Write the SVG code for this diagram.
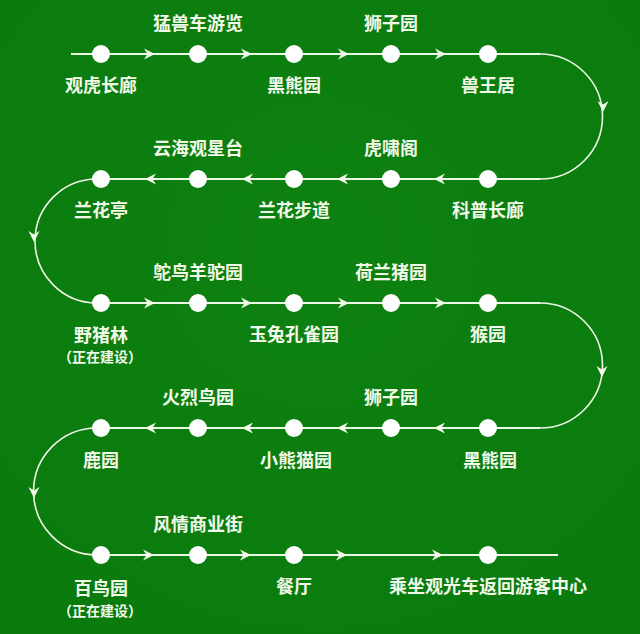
<svg xmlns="http://www.w3.org/2000/svg" xmlns:xlink="http://www.w3.org/1999/xlink" width="640" height="634" viewBox="0 0 640 634">
<defs>
<style>
.lbl{font-family:"Noto Sans CJK SC","Noto Sans",sans-serif;font-size:18px;font-weight:bold;fill:#f2f9e8;text-anchor:middle}
.sub{font-family:"Noto Sans CJK SC","Noto Sans",sans-serif;font-size:14px;font-weight:bold;fill:#f2f9e8;text-anchor:middle}
.dot{fill:#ffffff}
.ln{fill:none;stroke:#eef7e4;stroke-width:2}
.cv{fill:none;stroke:#eef7e4;stroke-width:1.6}
.ah{fill:#f2f9e8}
</style>
<path id="ah" d="M0,0 L-11,-5.5 L-7.5,0 L-11,5.5 Z"/>
<radialGradient id="bg" cx="50%" cy="40%" r="75%">
<stop offset="0" stop-color="#0d8112"/>
<stop offset="1" stop-color="#0a7a0d"/>
</radialGradient>
</defs>
<rect width="640" height="634" fill="url(#bg)"/>
<g id="connectors">
<path class="ln" d="M71,54 H540"/>
<path class="cv" d="M540,54 A62.5,62.5 0 0 1 540,179"/>
<path class="ln" d="M540,179 H97"/>
<path class="cv" d="M97,179 A62,62 0 0 0 97,303"/>
<path class="ln" d="M97,303 H540"/>
<path class="cv" d="M540,303 A62.5,62.5 0 0 1 540,428"/>
<path class="ln" d="M540,428 H97"/>
<path class="cv" d="M97,428 A63.5,63.5 0 0 0 97,555"/>
<path class="ln" d="M97,555 H558"/>
<g class="ah">
<use xlink:href="#ah" transform="translate(155,54)"/>
<use xlink:href="#ah" transform="translate(252,54)"/>
<use xlink:href="#ah" transform="translate(349,54)"/>
<use xlink:href="#ah" transform="translate(446,54)"/>
<use xlink:href="#ah" transform="translate(603,112) rotate(90)"/>
<use xlink:href="#ah" transform="translate(434,179) rotate(180)"/>
<use xlink:href="#ah" transform="translate(337,179) rotate(180)"/>
<use xlink:href="#ah" transform="translate(242,179) rotate(180)"/>
<use xlink:href="#ah" transform="translate(145,179) rotate(180)"/>
<use xlink:href="#ah" transform="translate(34,242) rotate(90)"/>
<use xlink:href="#ah" transform="translate(155,303)"/>
<use xlink:href="#ah" transform="translate(252,303)"/>
<use xlink:href="#ah" transform="translate(349,303)"/>
<use xlink:href="#ah" transform="translate(446,303)"/>
<use xlink:href="#ah" transform="translate(602,377) rotate(90)"/>
<use xlink:href="#ah" transform="translate(434,428) rotate(180)"/>
<use xlink:href="#ah" transform="translate(337,428) rotate(180)"/>
<use xlink:href="#ah" transform="translate(242,428) rotate(180)"/>
<use xlink:href="#ah" transform="translate(145,428) rotate(180)"/>
<use xlink:href="#ah" transform="translate(34,498) rotate(90)"/>
<use xlink:href="#ah" transform="translate(154,555)"/>
<use xlink:href="#ah" transform="translate(251,555)"/>
<use xlink:href="#ah" transform="translate(347,555)"/>
<use xlink:href="#ah" transform="translate(443,555)"/>
</g>
</g>
<g id="n1"><circle class="dot" cx="101" cy="54" r="9"/><text class="lbl" x="101" y="91.5">观虎长廊</text></g>
<g id="n2"><circle class="dot" cx="198" cy="54" r="9"/><text class="lbl" x="198" y="29.5">猛兽车游览</text></g>
<g id="n3"><circle class="dot" cx="294" cy="54" r="9"/><text class="lbl" x="294" y="91.5">黑熊园</text></g>
<g id="n4"><circle class="dot" cx="391" cy="54" r="9"/><text class="lbl" x="391" y="29.5">狮子园</text></g>
<g id="n5"><circle class="dot" cx="488" cy="54" r="9"/><text class="lbl" x="488" y="91.5">兽王居</text></g>

<g id="n6"><circle class="dot" cx="488" cy="179" r="9"/><text class="lbl" x="488" y="216.5">科普长廊</text></g>
<g id="n7"><circle class="dot" cx="391" cy="179" r="9"/><text class="lbl" x="391" y="154.5">虎啸阁</text></g>
<g id="n8"><circle class="dot" cx="294" cy="179" r="9"/><text class="lbl" x="294" y="216.5">兰花步道</text></g>
<g id="n9"><circle class="dot" cx="198" cy="179" r="9"/><text class="lbl" x="198" y="154.5">云海观星台</text></g>
<g id="n10"><circle class="dot" cx="101" cy="179" r="9"/><text class="lbl" x="101" y="216.5">兰花亭</text></g>

<g id="n11"><circle class="dot" cx="101" cy="303" r="9"/><text class="lbl" x="101" y="341.5">野猪林</text><text class="sub" x="100" y="362">（正在建设）</text></g>
<g id="n12"><circle class="dot" cx="198" cy="303" r="9"/><text class="lbl" x="198" y="278.5">鸵鸟羊驼园</text></g>
<g id="n13"><circle class="dot" cx="294" cy="303" r="9"/><text class="lbl" x="294" y="341">玉兔孔雀园</text></g>
<g id="n14"><circle class="dot" cx="391" cy="303" r="9"/><text class="lbl" x="391" y="278.5">荷兰猪园</text></g>
<g id="n15"><circle class="dot" cx="488" cy="303" r="9"/><text class="lbl" x="488" y="341">猴园</text></g>

<g id="n16"><circle class="dot" cx="488" cy="428" r="9"/><text class="lbl" x="490" y="466.5">黑熊园</text></g>
<g id="n17"><circle class="dot" cx="391" cy="428" r="9"/><text class="lbl" x="391" y="404">狮子园</text></g>
<g id="n18"><circle class="dot" cx="294" cy="428" r="9"/><text class="lbl" x="296" y="466.5">小熊猫园</text></g>
<g id="n19"><circle class="dot" cx="198" cy="428" r="9"/><text class="lbl" x="198" y="404">火烈鸟园</text></g>
<g id="n20"><circle class="dot" cx="101" cy="428" r="9"/><text class="lbl" x="101" y="466.5">鹿园</text></g>

<g id="n21"><circle class="dot" cx="101" cy="555" r="9"/><text class="lbl" x="101" y="594.5">百鸟园</text><text class="sub" x="100" y="615.5">（正在建设）</text></g>
<g id="n22"><circle class="dot" cx="198" cy="555" r="9"/><text class="lbl" x="198" y="531">风情商业街</text></g>
<g id="n23"><circle class="dot" cx="294" cy="555" r="9"/><text class="lbl" x="294" y="592.5">餐厅</text></g>
<g id="n24"><circle class="dot" cx="488" cy="555" r="9"/><text class="lbl" x="488" y="592.5">乘坐观光车返回游客中心</text></g>
</svg>
